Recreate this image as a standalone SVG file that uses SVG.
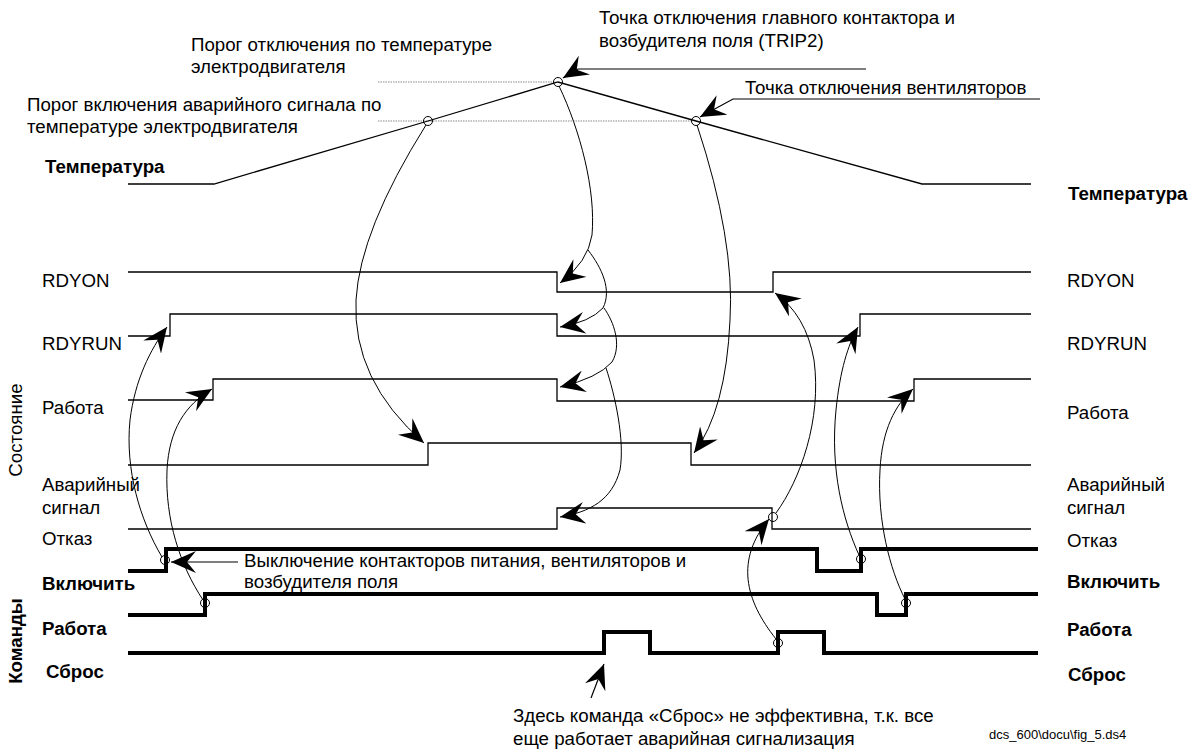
<svg xmlns="http://www.w3.org/2000/svg" width="1191" height="749" viewBox="0 0 1191 749">
  <style>
    .t { font-family: "Liberation Sans", Arial, sans-serif; font-size: 18.7px; fill: #000; }
    .b { font-weight: bold; }
    .small { font-size: 13px; }
    .trace { fill: none; stroke: #000; stroke-width: 1.3; stroke-linejoin: miter; }
    .cmd { fill: none; stroke: #000; stroke-width: 4; stroke-linejoin: miter; }
    .level { fill: none; stroke: #8a8a8a; stroke-width: 1.2; stroke-dasharray: 1.5 1; }
    .pt { fill: none; stroke: #000; stroke-width: 1; }
    .link { fill: none; stroke: #000; stroke-width: 1; marker-end: url(#dart); }
    .lead { fill: none; stroke: #000; stroke-width: 1.2; marker-end: url(#dart); }
  </style>
  <defs>
    <marker id="dart" markerUnits="userSpaceOnUse" markerWidth="26" markerHeight="22" viewBox="0 0 26 22" refX="25" refY="11" orient="auto">
      <path d="M0,0 L25,11 L0,22 L9,11 Z" fill="#000"/>
    </marker>
  </defs>
  <rect width="1191" height="749" fill="#fff"/>

  <!-- temperature profile with its threshold levels -->
  <g id="temperature">
    <line class="level" x1="378" y1="82" x2="556" y2="82"/>
    <line class="level" x1="378" y1="121" x2="692" y2="121"/>
    <polyline class="trace" points="128,184 214,184 428,121 558,82 696,121 922,184 1031,184"/>
    <circle class="pt" cx="428" cy="121" r="4.5"/>
    <circle class="pt" cx="558" cy="82" r="4.5"/>
    <circle class="pt" cx="696" cy="121" r="4.5"/>
    <text class="t b" x="45" y="173">Температура</text>
    <text class="t b" x="1068" y="200">Температура</text>
  </g>

  <g id="note-trip-level">
    <text class="t" x="191" y="51">Порог отключения по температуре</text>
    <text class="t" x="191" y="73">электродвигателя</text>
  </g>
  <g id="note-alarm-level">
    <text class="t" x="27" y="111">Порог включения аварийного сигнала по</text>
    <text class="t" x="27" y="133">температуре электродвигателя</text>
  </g>
  <g id="note-trip2">
    <text class="t" x="599" y="24" textLength="356" lengthAdjust="spacingAndGlyphs">Точка отключения главного контактора и</text>
    <text class="t" x="599" y="47">возбудителя поля (TRIP2)</text>
  </g>
  <g id="note-fans">
    <text class="t" x="745" y="94">Точка отключения вентиляторов</text>
  </g>

  <!-- status signals -->
  <g id="rdyon">
    <polyline class="trace" points="128,272 557,272 557,292 773,292 773,272 1031,272"/>
    <text class="t" x="42" y="287">RDYON</text>
    <text class="t" x="1067" y="287">RDYON</text>
  </g>
  <g id="rdyrun">
    <polyline class="trace" points="128,336 170,336 170,314 557,314 557,336 860,336 860,314 1031,314"/>
    <text class="t" x="42" y="350">RDYRUN</text>
    <text class="t" x="1067" y="350">RDYRUN</text>
  </g>
  <g id="run-status">
    <polyline class="trace" points="128,400 213,400 213,379 557,379 557,401 914,401 914,379 1031,379"/>
    <text class="t" x="42" y="414">Работа</text>
    <text class="t" x="1067" y="419">Работа</text>
  </g>
  <g id="alarm">
    <polyline class="trace" points="128,465 428,465 428,443 691,443 691,465 1031,465"/>
    <text class="t" x="42" y="491">Аварийный</text>
    <text class="t" x="42" y="514">сигнал</text>
    <text class="t" x="1067" y="491">Аварийный</text>
    <text class="t" x="1067" y="514">сигнал</text>
  </g>
  <g id="fault">
    <polyline class="trace" points="128,529 557,529 557,508 772,508 772,529 1031,529"/>
    <circle class="pt" cx="773" cy="517" r="4.5"/>
    <text class="t" x="42" y="545">Отказ</text>
    <text class="t" x="1067" y="547">Отказ</text>
  </g>

  <!-- command signals -->
  <g id="on-cmd">
    <polyline class="cmd" points="128,571 166,571 166,549 817,549 817,571 861,571 861,549 1038,549"/>
    <circle class="pt" cx="165" cy="560" r="4.5"/>
    <circle class="pt" cx="861" cy="559" r="4.5"/>
    <text class="t b" x="42" y="590">Включить</text>
    <text class="t b" x="1067" y="588">Включить</text>
  </g>
  <g id="run-cmd">
    <polyline class="cmd" points="128,615 205,615 205,594 877,594 877,615 906,615 906,594 1038,594"/>
    <circle class="pt" cx="205" cy="603" r="4.5"/>
    <circle class="pt" cx="906" cy="603" r="4.5"/>
    <text class="t b" x="42" y="635">Работа</text>
    <text class="t b" x="1067" y="636">Работа</text>
  </g>
  <g id="reset-cmd">
    <polyline class="cmd" points="128,653 604,653 604,632 650,632 650,653 778,653 778,632 824,632 824,653 1038,653"/>
    <circle class="pt" cx="778" cy="643" r="4.5"/>
    <text class="t b" x="46" y="678">Сброс</text>
    <text class="t b" x="1068" y="681">Сброс</text>
  </g>

  <g id="group-labels">
    <text class="t" font-size="19" text-anchor="middle" transform="translate(22,430) rotate(-90)">Состояние</text>
    <text class="t b" font-size="19" text-anchor="middle" transform="translate(22,641) rotate(-90)">Команды</text>
  </g>

  <g id="note-shutdown">
    <text class="t" x="244" y="567">Выключение контакторов питания, вентиляторов и</text>
    <text class="t" x="244" y="588">возбудителя поля</text>
  </g>
  <g id="note-reset">
    <text class="t" x="513" y="722">Здесь команда «Сброс» не эффективна, т.к. все</text>
    <text class="t" x="513" y="745">еще работает аварийная сигнализация</text>
  </g>
  <text class="t small" x="989" y="739">dcs_600\docu\fig_5.ds4</text>

  <!-- cause/effect connectors and callout leaders -->
  <g id="connectors">
    <!-- leaders -->
    <path class="lead" d="M866,69 H578 L563,78"/>
    <path class="lead" d="M1040,99 H733 L700,117"/>
    <path class="lead" d="M238,562 H171"/>
    <path class="lead" d="M591,698 L604,664"/>

    <!-- temperature thresholds to status changes -->
    <path class="link" d="M426,125 Q360,230 356,300 Q352,380 424,443"/>
    <path class="link" d="M697,125 Q735,240 730,320 Q726,410 694,453"/>
    <path class="link" d="M559,86 C580,130 596,190 592,235 Q588,262 560,283"/>
    <path class="link" d="M588,250 C602,268 612,290 603,308 Q590,322 560,327"/>
    <path class="link" d="M604,308 C614,322 622,345 612,362 Q598,378 560,387"/>
    <path class="link" d="M606,368 C615,395 625,440 620,470 C612,500 590,512 560,517"/>

    <!-- commands to status changes -->
    <path class="link" d="M162,557 C140,520 125,470 130,420 C135,380 150,350 167,327"/>
    <path class="link" d="M203,600 C180,565 165,520 167,470 C169,430 185,405 212,389"/>
    <path class="link" d="M776,639 C745,600 735,560 769,519"/>
    <path class="link" d="M776,513 C800,480 822,420 814,360 Q806,315 775,293"/>
    <path class="link" d="M859,555 C843,520 830,470 836,410 C840,370 848,345 858,327"/>
    <path class="link" d="M905,599 C890,570 877,520 880,470 C882,430 895,405 913,389"/>
  </g>
</svg>
